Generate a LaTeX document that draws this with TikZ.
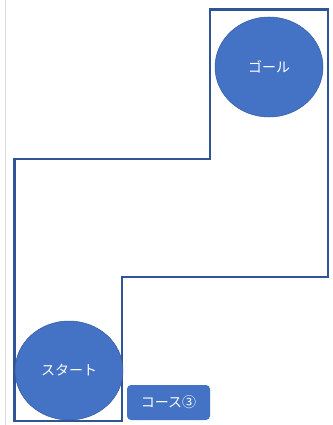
\documentclass[tikz,border=0pt]{standalone}
\usepackage{fontspec}
\newfontfamily\cjk{Noto Sans CJK JP}
\definecolor{fillblue}{HTML}{4472C4}
\definecolor{lineblue}{HTML}{2F5597}
\definecolor{guide}{HTML}{D9D9D9}
\usetikzlibrary{shapes.geometric}
\begin{document}
\begin{tikzpicture}[x=1pt,y=-1pt,
  course/.style={draw=lineblue,line width=2.5pt,line join=miter},
  spot/.style={ellipse,fill=fillblue,draw=fillblue!80!black,line width=0.5pt,text=white,font=\cjk\fontsize{14}{16}\selectfont,inner sep=0pt},
  tag/.style={rectangle,rounded corners=4pt,fill=fillblue,text=white,font=\cjk\fontsize{14}{16}\selectfont,inner sep=0pt}]
\useasboundingbox (0,0) rectangle (332,425);
\draw[guide,line width=0.8pt] (5,0) -- (5,425);
\coordinate (p1) at (210,9.5);
\coordinate (p2) at (328,9.5);
\coordinate (p3) at (328,277);
\coordinate (p4) at (122,277);
\coordinate (p5) at (122,421);
\coordinate (p6) at (14.5,421);
\coordinate (p7) at (14.5,159);
\coordinate (p8) at (210,159);
\draw[course] (p1) -- (p2) -- (p3) -- (p4) -- (p5) -- (p6) -- (p7) -- (p8) -- cycle;
\node[spot,minimum width=108pt,minimum height=100pt] (goal) at (269,67) {ゴール};
\node[spot,minimum width=108pt,minimum height=99pt] (start) at (69,370.5) {スタート};
\node[tag,minimum width=83pt,minimum height=35pt] (label) at (168.5,402.5) {コース③};
\end{tikzpicture}
\end{document}
